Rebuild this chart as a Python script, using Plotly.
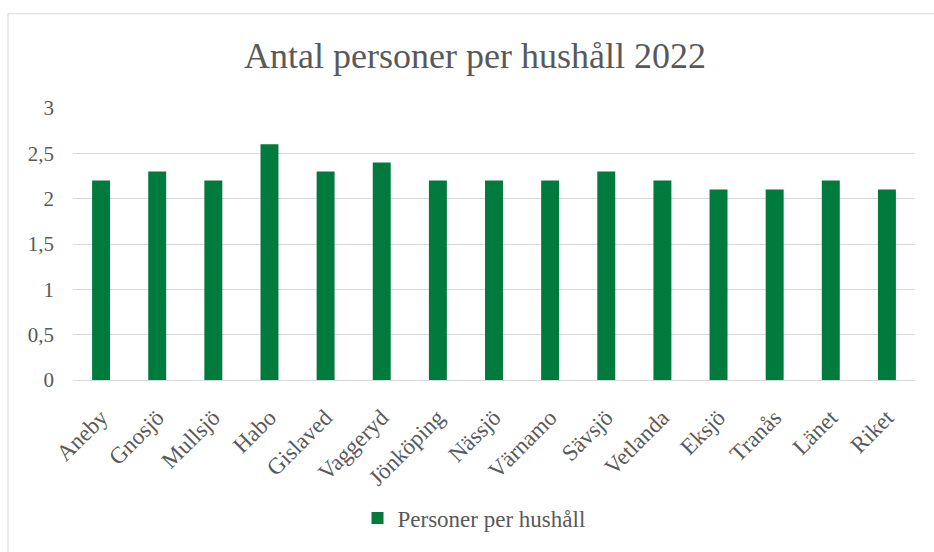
import plotly.graph_objects as go

# Antal personer per hushåll, 2022
kommuner = ["Aneby", "Gnosjö", "Mullsjö", "Habo", "Gislaved", "Vaggeryd", "Jönköping",
            "Nässjö", "Värnamo", "Sävsjö", "Vetlanda", "Eksjö", "Tranås", "Länet", "Riket"]
personer = [2.2, 2.3, 2.2, 2.6, 2.3, 2.4, 2.2, 2.2, 2.2, 2.3, 2.2, 2.1, 2.1, 2.2, 2.1]
y_ticks = [0, 0.5, 1, 1.5, 2, 2.5, 3]
y_tick_text = ["0", "0,5", "1", "1,5", "2", "2,5", "3"]

W, H = 934, 552
L, R, T, B = 73, 19, 108, 170
pw, ph = W - L - R, H - T - B

def px_x(x):
    return (x - L) / pw

def px_y(y):
    return (H - B - y) / ph

FONT = "Liberation Serif, DejaVu Serif, serif"
GREY = "#595959"
GREEN = "#007A3D"

fig = go.Figure()
fig.add_trace(go.Bar(
    x=kommuner, y=personer, name="Personer per hushåll",
    marker=dict(color=GREEN, line=dict(width=0)),
    width=0.32,
))

# outer chart frame
fig.add_shape(type="rect", xref="paper", yref="paper",
              x0=px_x(8), x1=px_x(940), y0=px_y(560), y1=px_y(13),
              line=dict(color="#D9D9D9", width=1), layer="below")

fig.update_layout(
    width=W, height=H,
    margin=dict(l=L, r=R, t=T, b=B),
    paper_bgcolor="white", plot_bgcolor="white",
    title=dict(text="Antal personer per hushåll 2022", x=px_x(475), xref="paper",
               xanchor="center", y=1 - 55 / H, yanchor="middle",
               font=dict(family=FONT, size=36, color=GREY)),
    font=dict(family=FONT, color=GREY, size=21),
    xaxis=dict(tickangle=-45, showgrid=False, showline=True, linecolor="#D9D9D9",
               linewidth=1, ticks="", automargin=False, ticklabelstandoff=14,
               tickfont=dict(size=23, color=GREY)),
    yaxis=dict(range=[0, 3], tickvals=y_ticks, ticktext=y_tick_text,
               showgrid=True, gridcolor="#D9D9D9", gridwidth=1, zeroline=False,
               showline=False, ticks="", ticklabelstandoff=18, automargin=False,
               tickfont=dict(size=21, color=GREY)),
    showlegend=True,
    legend=dict(orientation="h", x=px_x(474), xanchor="center", y=px_y(521), yanchor="middle",
                itemwidth=30, font=dict(family=FONT, size=23, color=GREY)),
    bargap=0.68,
)

fig.write_html("out.html")
